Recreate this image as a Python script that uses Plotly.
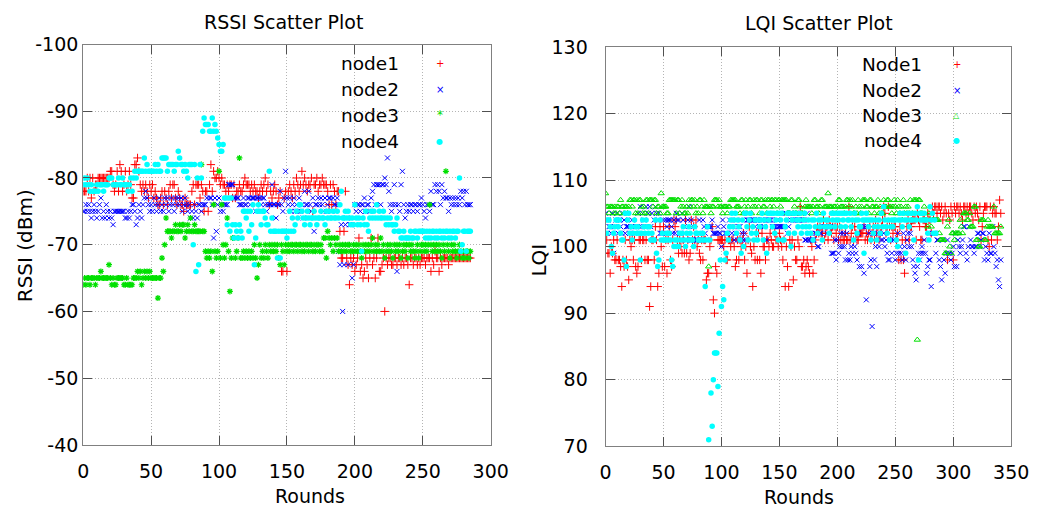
import plotly.graph_objects as go

# ---------------- RSSI (dBm), one value per round ----------------
rssi_node1 = [
    -78, -78, -78, -80, -78, -80, -77, -80, -78, -79,
    -79, -80, -80, -80, -80, -80, -80, -80, -80, -80,
    -81, -81, -79, -78, -79, -81, -78, -82, -81, -78,
    -79, -81, -78, -79, -81, -79, -77, -77, -82, -82,
    -83, -81, -79, -78, -79, -78, -79, -78, -77, -79,
    -78, -79, -77, -78, -77, -76, -76, -77, -78, -76,
    -78, -77, -76, -78, -79, -77, -79, -79, -77, -76,
    -78, -77, -76, -76, -75, -77, -76, -76, -76, -76,
    -78, -79, -76, -79, -79, -79, -77, -79, -78, -75,
    -78, -78, -75, -79, -82, -78, -81, -80, -80, -81,
    -80, -79, -80, -79, -79, -78, -79, -78, -79, -79,
    -77, -79, -77, -78, -78, -79, -78, -78, -79, -80,
    -79, -79, -79, -78, -79, -78, -79, -78, -78, -77,
    -78, -79, -78, -79, -80, -78, -79, -76, -78, -77,
    -78, -79, -78, -76, -77, -78, -66, -66, -77, -78,
    -66, -78, -79, -78, -77, -79, -78, -80, -79, -78,
    -79, -81, -79, -80, -79, -78, -79, -79, -80, -75,
    -79, -79, -80, -78, -79, -79, -80, -79, -79, -79,
    -78, -76, -79, -76, -79, -78, -76, -78, -78, -72,
    -68, -68, -72, -78, -68, -67, -64, -68, -67, -68,
    -66, -67, -68, -71, -66, -67, -65, -66, -68, -67,
    -65, -68, -71, -67, -68, -65, -68, -71, -66, -66,
    -67, -68, -60, -68, -67, -68, -68, -67, -67, -68,
    -68, -67, -68, -68, -67, -68, -67, -68, -68, -67,
    -64, -68, -68, -67, -68, -68, -67, -68, -67, -68,
    -68, -68, -67, -68, -68, -68, -66, -68, -67, -69,
    -68, -68, -66, -68, -67, -68, -68, -68, -68, -67,
    -68, -68, -68, -68, -68, -68, -68, -68, -68, -68,
    -68, -68, -68, -68, -68, -68,
]

rssi_node2 = [
    -75, -75, -76, -75, -76, -75, -74, -75, -76, -75,
    -74, -75, -76, -77, -74, -75, -74, -76, -75, -74,
    -75, -74, -73, -75, -75, -75, -75, -75, -75, -75,
    -75, -74, -74, -75, -74, -75, -76, -76, -75, -73,
    -74, -76, -75, -74, -76, -77, -78, -77, -76, -75,
    -76, -75, -77, -76, -75, -76, -77, -75, -76, -75,
    -77, -76, -77, -75, -76, -77, -76, -75, -77, -76,
    -77, -76, -77, -75, -76, -77, -76, -75, -76, -74,
    -75, -74, -76, -75, -74, -76, -76, -75, -76, -76,
    -76, -77, -69, -77, -77, -76, -71, -77, -72, -76,
    -77, -75, -76, -75, -76, -76, -76, -79, -79, -79,
    -79, -77, -77, -77, -77, -76, -76, -76, -77, -76,
    -76, -77, -77, -76, -77, -77, -77, -75, -77, -77,
    -77, -76, -77, -77, -76, -75, -76, -76, -76, -79,
    -76, -76, -74, -76, -76, -78, -76, -75, -77, -81,
    -77, -76, -77, -75, -76, -77, -75, -76, -75, -77,
    -75, -76, -74, -78, -76, -76, -78, -76, -75, -77,
    -72, -76, -76, -77, -76, -77, -76, -75, -77, -75,
    -76, -77, -77, -75, -77, -76, -76, -77, -69, -67,
    -73, -60, -67, -73, -74, -67, -73, -73, -65, -67,
    -76, -75, -76, -76, -75, -76, -76, -77, -75, -76,
    -76, -75, -77, -78, -79, -76, -79, -79, -79, -76,
    -79, -79, -80, -79, -83, -78, -76, -75, -76, -79,
    -76, -66, -76, -75, -79, -81, -76, -74, -75, -76,
    -75, -76, -76, -75, -76, -76, -75, -76, -76, -77,
    -76, -75, -74, -76, -76, -75, -78, -76, -76, -79,
    -78, -79, -78, -76, -79, -77, -78, -77, -77, -75,
    -77, -76, -77, -76, -77, -76, -77, -76, -78, -77,
    -78, -76, -78, -76, -76, -76,
]

rssi_node3 = [
    -64, -65, -64, -65, -65, -64, -65, -65, -65, -64,
    -65, -65, -65, -66, -65, -65, -65, -65, -65, -67,
    -65, -64, -65, -64, -64, -65, -65, -65, -65, -65,
    -64, -64, -65, -64, -64, -64, -64, -65, -65, -65,
    -66, -65, -66, -64, -65, -66, -65, -66, -65, -66,
    -65, -65, -65, -65, -65, -62, -65, -65, -68, -66,
    -70, -74, -72, -72, -72, -71, -72, -72, -73, -72,
    -72, -73, -72, -73, -73, -71, -72, -73, -72, -74,
    -72, -72, -73, -72, -72, -72, -72, -82, -72, -72,
    -69, -68, -69, -68, -69, -66, -76, -69, -68, -69,
    -81, -68, -76, -70, -68, -70, -74, -69, -63, -68,
    -71, -71, -68, -69, -71, -83, -68, -68, -69, -68,
    -69, -68, -69, -68, -69, -68, -70, -68, -65, -67,
    -70, -68, -69, -68, -70, -69, -68, -70, -69, -70,
    -69, -70, -69, -70, -68, -67, -70, -69, -67, -70,
    -69, -70, -69, -70, -70, -69, -70, -70, -69, -70,
    -70, -69, -70, -69, -70, -70, -69, -70, -70, -69,
    -70, -69, -70, -70, -69, -70, -69, -71, -71, -68,
    -72, -71, -70, -71, -69, -71, -70, -71, -69, -70,
    -69, -70, -69, -70, -69, -70, -70, -69, -69, -70,
    -69, -70, -69, -70, -69, -68, -70, -69, -70, -69,
    -70, -69, -70, -71, -69, -70, -69, -70, -69, -71,
    -69, -70, -68, -69, -70, -69, -70, -69, -68, -70,
    -69, -70, -69, -70, -68, -69, -70, -69, -70, -68,
    -70, -69, -70, -69, -68, -69, -70, -68, -69, -70,
    -70, -69, -70, -69, -70, -76, -70, -69, -70, -69,
    -70, -69, -70, -69, -68, -70, -69, -81, -70, -69,
    -68, -70, -69, -70, -69, -68, -69, -70, -69, -68,
    -69, -68, -69, -69, -68, -69,
]

rssi_node4 = [
    -79, -80, -79, -80, -79, -78, -79, -78, -78, -78,
    -79, -78, -79, -79, -79, -78, -79, -79, -79, -80,
    -80, -80, -79, -79, -79, -79, -80, -79, -79, -80,
    -79, -79, -79, -78, -79, -80, -78, -80, -81, -80,
    -81, -81, -81, -81, -81, -83, -81, -82, -81, -81,
    -81, -81, -81, -82, -81, -82, -81, -81, -83, -83,
    -83, -83, -81, -82, -82, -82, -82, -81, -82, -82,
    -84, -83, -82, -82, -81, -82, -81, -80, -82, -82,
    -82, -70, -82, -66, -80, -67, -82, -80, -87, -89,
    -88, -88, -88, -87, -87, -89, -87, -88, -87, -86,
    -85, -84, -84, -85, -77, -77, -73, -77, -72, -77,
    -73, -71, -73, -72, -71, -73, -72, -71, -75, -75,
    -74, -75, -72, -75, -73, -76, -67, -71, -75, -76,
    -75, -73, -75, -75, -74, -73, -73, -81, -72, -74,
    -72, -72, -72, -68, -72, -68, -72, -72, -72, -72,
    -71, -72, -75, -72, -74, -72, -73, -75, -74, -76,
    -76, -75, -74, -73, -74, -75, -74, -73, -74, -74,
    -75, -74, -73, -74, -74, -75, -74, -74, -73, -75,
    -74, -75, -74, -74, -75, -74, -74, -75, -74, -76,
    -78, -74, -74, -75, -74, -75, -74, -73, -74, -73,
    -76, -74, -73, -74, -73, -69, -74, -73, -75, -73,
    -72, -74, -75, -74, -75, -74, -76, -74, -75, -74,
    -74, -75, -74, -73, -74, -73, -74, -73, -73, -72,
    -73, -74, -72, -72, -71, -71, -72, -71, -71, -71,
    -71, -72, -71, -71, -72, -72, -71, -72, -72, -72,
    -72, -72, -71, -72, -71, -72, -71, -72, -72, -71,
    -72, -71, -72, -72, -71, -72, -71, -72, -72, -71,
    -72, -71, -72, -72, -71, -72, -72, -80, -69, -70,
    -72, -72, -69, -72, -72, -72,
]

# ---------------- LQI, one value per round ----------------
lqi_node1 = [
    99, 101, 99, 99, 96, 100, 99, 101, 98, 98,
    101, 98, 98, 97, 94, 98, 97, 101, 98, 97,
    95, 101, 100, 101, 98, 101, 97, 96, 97, 101,
    101, 98, 101, 101, 98, 101, 98, 98, 91, 94,
    101, 101, 98, 103, 101, 94, 96, 103, 100, 97,
    103, 97, 101, 96, 101, 103, 98, 97, 101, 104,
    103, 104, 101, 99, 101, 100, 99, 101, 99, 104,
    99, 101, 98, 99, 104, 101, 103, 101, 104, 100,
    101, 99, 98, 101, 98, 101, 101, 95, 96, 96,
    100, 101, 103, 92, 90, 97, 96, 101, 101, 101,
    101, 101, 100, 101, 98, 98, 101, 101, 100, 101,
    101, 100, 97, 98, 101, 98, 101, 100, 101, 102,
    98, 100, 96, 101, 103, 100, 99, 94, 100, 98,
    102, 98, 102, 98, 96, 102, 100, 100, 98, 101,
    101, 100, 102, 101, 100, 100, 102, 101, 101, 100,
    102, 101, 100, 98, 101, 94, 100, 97, 94, 101,
    100, 101, 95, 100, 98, 98, 101, 100, 106, 97,
    97, 98, 96, 97, 98, 97, 96, 101, 100, 96,
    98, 101, 102, 103, 102, 103, 102, 102, 104, 101,
    102, 103, 101, 104, 103, 102, 103, 101, 103, 102,
    103, 101, 103, 101, 102, 101, 101, 102, 101, 101,
    106, 101, 102, 103, 101, 103, 102, 101, 101, 102,
    102, 102, 102, 103, 101, 102, 101, 102, 103, 101,
    102, 103, 101, 104, 102, 103, 101, 102, 103, 104,
    106, 105, 102, 103, 106, 103, 101, 103, 102, 103,
    103, 101, 102, 98, 103, 98, 101, 98, 96, 101,
    103, 104, 101, 103, 103, 104, 104, 104, 101, 105,
    104, 103, 101, 101, 104, 104, 103, 103, 105, 104,
    104, 102, 106, 105, 106, 106, 105, 106, 106, 105,
    106, 104, 105, 106, 105, 98, 105, 104, 106, 105,
    98, 106, 105, 106, 106, 105, 106, 105, 104, 106,
    106, 105, 106, 105, 106, 106, 105, 104, 106, 105,
    106, 105, 104, 106, 101, 103, 105, 106, 106, 106,
    101, 100, 106, 101, 105, 106, 105, 105, 101, 103,
    107, 105,
]

lqi_node2 = [
    105, 102, 104, 103, 103, 102, 105, 99, 103, 104,
    105, 102, 104, 103, 102, 105, 104, 102, 103, 103,
    103, 102, 103, 104, 103, 102, 103, 103, 105, 103,
    106, 103, 105, 104, 103, 106, 103, 105, 106, 103,
    105, 101, 104, 106, 105, 104, 105, 102, 102, 102,
    104, 102, 104, 103, 104, 104, 104, 103, 102, 104,
    102, 105, 104, 104, 102, 102, 105, 104, 103, 101,
    101, 104, 106, 101, 104, 101, 103, 101, 101, 101,
    101, 104, 101, 101, 104, 103, 102, 101, 103, 103,
    103, 103, 104, 102, 102, 102, 102, 103, 102, 102,
    100, 104, 103, 102, 102, 102, 101, 104, 103, 102,
    103, 101, 102, 104, 101, 103, 103, 101, 102, 101,
    102, 101, 104, 104, 104, 104, 104, 104, 104, 103,
    104, 104, 104, 103, 104, 104, 103, 103, 104, 101,
    104, 104, 104, 104, 103, 103, 103, 103, 104, 103,
    103, 103, 103, 103, 103, 105, 105, 102, 103, 105,
    104, 105, 104, 104, 105, 104, 104, 104, 104, 105,
    104, 104, 101, 101, 105, 101, 101, 101, 101, 101,
    101, 102, 102, 100, 100, 102, 102, 103, 103, 103,
    103, 102, 103, 103, 103, 99, 99, 99, 101, 98,
    101, 99, 100, 102, 100, 102, 100, 98, 102, 98,
    99, 98, 100, 99, 101, 100, 99, 98, 102, 97,
    103, 97, 103, 96, 103, 92, 103, 102, 97, 98,
    88, 102, 98, 100, 97, 102, 100, 102, 101, 101,
    102, 100, 101, 99, 98, 98, 101, 99, 101, 101,
    98, 99, 102, 99, 100, 99, 98, 102, 100, 98,
    101, 102, 100, 102, 100, 98, 97, 96, 95, 97,
    99, 98, 99, 100, 99, 101, 99, 96, 97, 98,
    98, 94, 102, 102, 102, 99, 101, 101, 98, 97,
    95, 101, 98, 96, 99, 101, 99, 99, 98, 99,
    100, 97, 102, 97, 101, 100, 99, 100, 101, 103,
    103, 99, 98, 100, 103, 101, 100, 100, 99, 100,
    100, 102, 102, 100, 101, 102, 102, 98, 100, 99,
    98, 102, 99, 99, 103, 100, 99, 97, 98, 95,
    94, 98,
]

lqi_node3 = [
    108, 106, 106, 105, 106, 106, 106, 105, 106, 105,
    106, 106, 105, 107, 106, 106, 105, 106, 106, 105,
    106, 107, 107, 106, 107, 107, 105, 107, 105, 107,
    107, 106, 105, 106, 105, 107, 107, 105, 107, 107,
    107, 106, 107, 107, 105, 106, 106, 105, 108, 106,
    106, 106, 106, 105, 105, 107, 107, 107, 107, 107,
    107, 105, 107, 107, 105, 106, 107, 106, 105, 105,
    106, 105, 107, 106, 107, 107, 106, 107, 105, 106,
    105, 107, 107, 106, 105, 107, 106, 106, 106, 97,
    106, 105, 106, 106, 107, 107, 107, 106, 107, 106,
    106, 105, 106, 106, 106, 105, 106, 106, 107, 107,
    107, 107, 107, 106, 106, 106, 105, 107, 107, 105,
    106, 107, 105, 106, 107, 107, 105, 106, 107, 106,
    107, 107, 106, 105, 107, 107, 106, 106, 107, 105,
    107, 107, 106, 107, 107, 106, 107, 107, 105, 107,
    107, 106, 107, 107, 107, 107, 107, 105, 105, 105,
    107, 107, 105, 106, 105, 105, 107, 107, 106, 105,
    105, 104, 106, 107, 106, 106, 106, 106, 105, 106,
    107, 107, 106, 106, 105, 106, 107, 107, 104, 106,
    106, 106, 108, 106, 106, 106, 105, 106, 106, 105,
    106, 107, 107, 106, 106, 106, 105, 106, 107, 107,
    106, 107, 106, 107, 105, 105, 106, 105, 107, 106,
    105, 106, 107, 107, 107, 106, 106, 105, 107, 107,
    106, 106, 105, 106, 106, 107, 105, 106, 105, 105,
    107, 106, 106, 107, 107, 106, 106, 105, 106, 107,
    106, 105, 107, 106, 105, 106, 104, 107, 105, 106,
    105, 106, 105, 107, 104, 105, 107, 107, 107, 86,
    107, 107, 105, 105, 104, 106, 104, 104, 103, 105,
    104, 103, 104, 104, 104, 104, 104, 104, 102, 101,
    101, 101, 101, 99, 99, 103, 104, 100, 99, 102,
    102, 101, 102, 102, 102, 102, 104, 103, 102, 105,
    105, 105, 104, 104, 105, 103, 103, 103, 106, 106,
    101, 101, 100, 100, 104, 104, 104, 101, 101, 103,
    104, 103, 103, 103, 103, 106, 102, 102, 102, 102,
    102, 103,
]

lqi_node4 = [
    104, 102, 104, 104, 103, 100, 99, 102, 103, 104,
    104, 103, 104, 102, 101, 101, 98, 105, 97, 104,
    105, 102, 103, 101, 102, 104, 103, 102, 103, 102,
    98, 102, 104, 103, 102, 104, 103, 102, 103, 101,
    102, 101, 101, 104, 99, 97, 98, 104, 101, 102,
    101, 101, 101, 102, 101, 102, 101, 98, 97, 100,
    101, 100, 101, 100, 102, 101, 102, 103, 101, 100,
    102, 101, 103, 102, 101, 101, 100, 103, 102, 102,
    101, 101, 102, 101, 102, 101, 94, 101, 103, 71,
    101, 78, 73, 80, 84, 84, 84, 79, 87, 98,
    91, 94, 92, 98, 99, 102, 101, 103, 104, 105,
    103, 104, 105, 102, 104, 103, 101, 99, 104, 100,
    105, 105, 103, 101, 104, 105, 102, 103, 101, 104,
    102, 101, 104, 103, 104, 105, 101, 104, 103, 99,
    105, 104, 105, 105, 103, 105, 102, 104, 105, 101,
    105, 104, 105, 101, 101, 103, 104, 105, 102, 105,
    100, 104, 105, 102, 105, 104, 103, 104, 105, 102,
    103, 104, 105, 103, 102, 104, 103, 102, 104, 101,
    104, 103, 105, 102, 104, 103, 104, 101, 105, 103,
    104, 103, 104, 102, 103, 105, 104, 105, 103, 104,
    105, 104, 105, 103, 105, 104, 105, 103, 105, 104,
    104, 105, 103, 104, 101, 105, 104, 102, 104, 103,
    103, 105, 104, 99, 104, 105, 104, 103, 104, 101,
    104, 102, 103, 104, 101, 103, 104, 102, 105, 103,
    106, 104, 103, 102, 104, 101, 103, 104, 103, 104,
    104, 101, 100, 104, 105, 104, 103, 105, 104, 99,
    104, 105, 103, 104, 105, 104, 101, 105, 104, 106,
    98, 105, 104, 105, 104, 105, 104, 104, 102, 101,
    106, 104, 105, 102, 104, 102,
]

rssi_names = ["node1", "node2", "node3", "node4"]
lqi_names = ["Node1", "Node2", "Node3", "node4"]

rssi_ticks = [-100, -90, -80, -70, -60, -50, -40]
lqi_ticks = [70, 80, 90, 100, 110, 120, 130]
rssi_round_ticks = [0, 50, 100, 150, 200, 250, 300]
lqi_round_ticks = [0, 50, 100, 150, 200, 250, 300, 350]

RED, BLUE, GREEN, CYAN = "#ff0000", "#0000ff", "#00e000", "#00ffff"
FONT = "DejaVu Sans"

W, H = 1055, 521
# plot frames in pixels: (left, right, top, bottom)
RSSI_BOX = (79, 496, 35, 453)
LQI_BOX = (613.5, 1028.6, 37.5, 454.5)

rssi_styles = [
    dict(symbol="cross-thin-open", size=6, color=RED, line=dict(color=RED, width=1)),
    dict(symbol="x-thin-open", size=5, color=BLUE, line=dict(color=BLUE, width=1)),
    dict(symbol="asterisk-open", size=5, color=GREEN, line=dict(color=GREEN, width=1.2)),
    dict(symbol="circle", size=5.5, color=CYAN, line=dict(width=0)),
]
lqi_styles = [
    rssi_styles[0],
    rssi_styles[1],
    dict(symbol="triangle-up-open", size=5.5, color=GREEN, line=dict(color=GREEN, width=1)),
    rssi_styles[3],
]

fig = go.Figure()

for series, st, nm in zip([rssi_node1, rssi_node2, rssi_node3, rssi_node4], rssi_styles, rssi_names):
    fig.add_trace(go.Scatter(x=list(range(len(series))), y=series, mode="markers",
                             marker=st, name=nm, showlegend=False,
                             xaxis="x", yaxis="y"))

for series, st, nm in zip([lqi_node1, lqi_node2, lqi_node3, lqi_node4], lqi_styles, lqi_names):
    fig.add_trace(go.Scatter(x=list(range(len(series))), y=series, mode="markers",
                             marker=st, name=nm, showlegend=False,
                             xaxis="x2", yaxis="y2"))


def xdom(box):
    return [box[0] / W, box[1] / W]


def ydom(box):
    return [1 - box[3] / H, 1 - box[2] / H]


axis_common = dict(
    showgrid=True, gridcolor="#b4b4b4", griddash="1px,2px", gridwidth=1,
    zeroline=False, showline=True, linecolor="#808080", linewidth=1,
    mirror="ticks", ticks="inside", ticklen=9, tickwidth=1, tickcolor="#505050",
    tickfont=dict(family=FONT, size=19, color="#000000"),
)

fig.update_layout(
    width=W, height=H,
    margin=dict(l=0, r=0, t=0, b=0),
    paper_bgcolor="white", plot_bgcolor="white",
    showlegend=False,
    xaxis=dict(domain=xdom(RSSI_BOX), range=[0, 300], tickvals=rssi_round_ticks,
               ticktext=[str(v) for v in rssi_round_ticks], ticklabelstandoff=9,
               anchor="y", **axis_common),
    yaxis=dict(domain=ydom(RSSI_BOX), range=[-40, -100], tickvals=rssi_ticks,
               ticktext=["%d" % v for v in rssi_ticks], anchor="x", **axis_common),
    xaxis2=dict(domain=xdom(LQI_BOX), range=[0, 350], tickvals=lqi_round_ticks,
                ticktext=[str(v) for v in lqi_round_ticks], ticklabelstandoff=9,
                anchor="y2", **axis_common),
    yaxis2=dict(domain=ydom(LQI_BOX), range=[70, 130], tickvals=lqi_ticks,
                ticktext=[str(v) for v in lqi_ticks], ticklabelstandoff=13,
                anchor="x2", **axis_common),
)


def px(x, y):
    return x / W, 1 - y / H


annotations = []


def text_at(x, y, s, size, xanchor="center", color="#000000", angle=0):
    ax, ay = px(x, y)
    annotations.append(dict(x=ax, y=ay, xref="paper", yref="paper", text=s, showarrow=False,
                            xanchor=xanchor, yanchor="middle", textangle=angle,
                            font=dict(family=FONT, size=size, color=color)))


# titles and axis labels
text_at(284, 11, "RSSI Scatter Plot", 19)
text_at(832, 13, "LQI Scatter Plot", 19)
text_at(311, 506, "Rounds", 19)
text_at(811, 507, "Rounds", 19)
text_at(19, 245, "RSSI (dBm)", 20, angle=-90)
text_at(545, 260, "LQI", 20, angle=-90)

# key: label on the left, point sample on the right
rssi_key_rows = [55, 82, 109, 136]
lqi_key_rows = [56, 82.5, 109, 135.5]
rssi_glyphs = [("+", RED, 10), ("\u00d7", BLUE, 10), ("*", GREEN, 12), ("\u25cf", CYAN, 8)]
lqi_glyphs = [("+", RED, 10), ("\u00d7", BLUE, 10), ("\u25b3", GREEN, 8), ("\u25cf", CYAN, 8)]

for nm, yy, (g, c, s) in zip(rssi_names, rssi_key_rows, rssi_glyphs):
    text_at(404, yy, nm, 18.5, xanchor="right")
    text_at(444, yy, g, s, color=c)
for nm, yy, (g, c, s) in zip(lqi_names, lqi_key_rows, lqi_glyphs):
    text_at(939, yy, nm, 18.5, xanchor="right")
    text_at(973, yy, g, s, color=c)

fig.update_layout(annotations=annotations)

fig.write_html("out.html")
